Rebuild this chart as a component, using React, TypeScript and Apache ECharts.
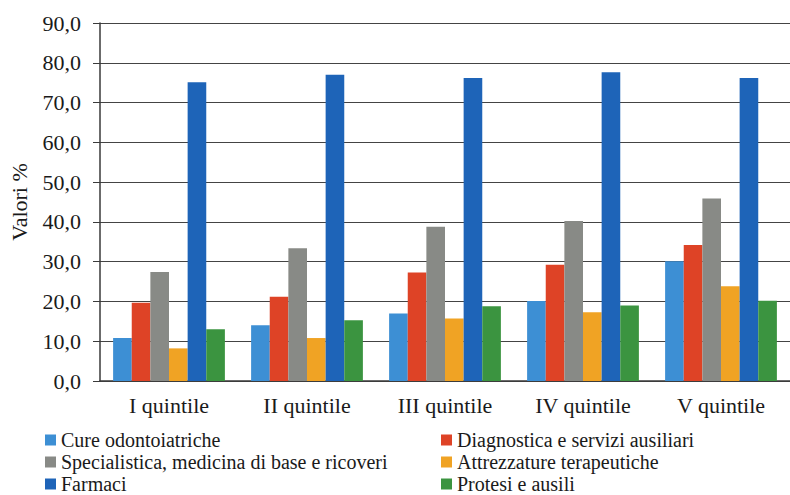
import React, { useEffect, useRef } from "react";
import * as echarts from "echarts";

const categories = ["I quintile", "II quintile", "III quintile", "IV quintile", "V quintile"];
const seriesNames = [
  "Cure odontoiatriche",
  "Diagnostica e servizi ausiliari",
  "Specialistica, medicina di base e ricoveri",
  "Attrezzature terapeutiche",
  "Farmaci",
  "Protesi e ausili",
];
const cure = [10.8, 14.0, 17.0, 20.1, 30.1];
const diagnostica = [19.7, 21.2, 27.3, 29.2, 34.2];
const specialistica = [27.4, 33.4, 38.8, 40.2, 45.9];
const attrezzature = [8.2, 10.8, 15.7, 17.3, 23.8];
const farmaci = [75.1, 77.0, 76.2, 77.6, 76.2];
const protesi = [13.0, 15.3, 18.8, 19.0, 20.2];
const colors = ["#3d8fd4", "#de4326", "#888a86", "#f0a324", "#1e64b8", "#3b9440"];

const FONT = "'Liberation Serif', 'Times New Roman', serif";
const FS = 22;

// legend placement: [left, top] for each series
const legendPos: [number, number][] = [
  [45, 429],
  [441, 429],
  [45, 451],
  [441, 451],
  [45, 473],
  [441, 473],
];

export default function App() {
  const ref = useRef<HTMLDivElement>(null);
  useEffect(() => {
    if (!ref.current) return;
    const chart = echarts.init(ref.current, null, { renderer: "svg" });
    const values = [cure, diagnostica, specialistica, attrezzature, farmaci, protesi];
    const legendText = { fontFamily: FONT, fontSize: 20, color: "#1a1a1a", lineHeight: 22 };
    chart.setOption({
      animation: false,
      backgroundColor: "#ffffff",
      color: colors,
      grid: { left: 95, top: 23, width: 702, height: 358, containLabel: false },
      legend: seriesNames.map((name, i) => ({
        data: [name],
        orient: "horizontal",
        left: legendPos[i][0],
        top: legendPos[i][1],
        itemWidth: 11,
        itemHeight: 11,
        itemGap: 0,
        padding: 0,
        icon: "rect",
        textStyle: legendText,
      })),
      xAxis: {
        type: "category",
        data: categories,
        axisLine: { show: true, lineStyle: { color: "#3a3a3a", width: 1.5 } },
        axisTick: { show: false },
        axisLabel: { fontFamily: FONT, fontSize: FS, color: "#1a1a1a", margin: 13 },
      },
      yAxis: {
        type: "value",
        min: 0,
        max: 90,
        interval: 10,
        name: "Valori %",
        nameLocation: "middle",
        nameRotate: 90,
        nameGap: 70,
        nameTextStyle: { fontFamily: FONT, fontSize: FS, color: "#1a1a1a" },
        axisLine: { show: true, lineStyle: { color: "#3a3a3a", width: 1.5 } },
        axisTick: { show: true, length: 7, lineStyle: { color: "#3a3a3a" } },
        axisLabel: {
          fontFamily: FONT,
          fontSize: FS,
          color: "#1a1a1a",
          margin: 19,
          formatter: (v: number) => v.toFixed(1).replace(".", ","),
        },
        splitLine: { show: true, lineStyle: { color: "#444", width: 1.2 } },
      },
      series: seriesNames.map((name, i) => ({
        name,
        type: "bar",
        data: values[i],
        barGap: "0%",
        barCategoryGap: "19%",
        itemStyle: { color: colors[i] },
      })),
    });
    return () => chart.dispose();
  }, []);
  return (
    <div
      ref={ref}
      style={{ position: "fixed", left: 0, top: 0, width: 790, height: 495 }}
    />
  );
}
